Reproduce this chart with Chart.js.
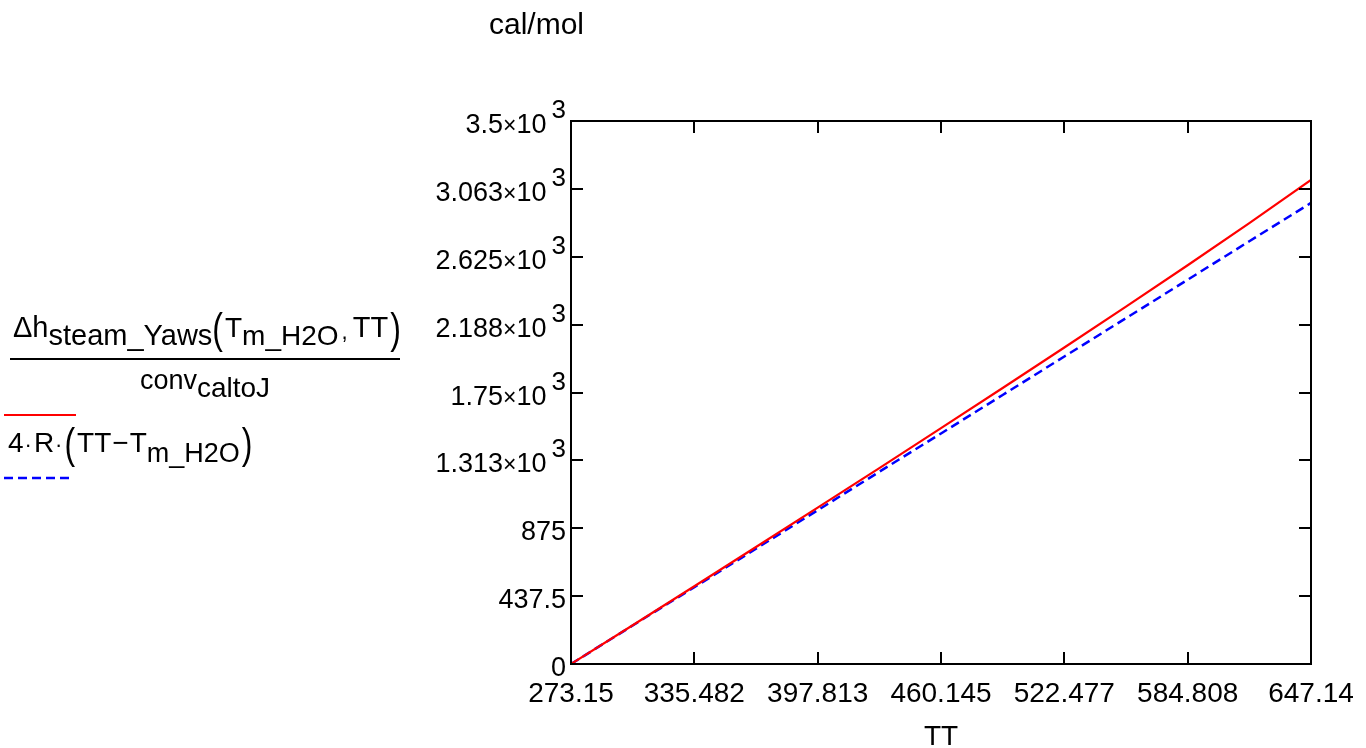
<!DOCTYPE html>
<html>
<head>
<meta charset="utf-8">
<title>cal/mol</title>
<script src="https://cdn.jsdelivr.net/npm/chart.js@4/dist/chart.umd.min.js"></script>
<style>
    html, body { margin: 0; padding: 0; background: #fff; }
    #wrap { position: relative; width: 1366px; height: 748px; }
</style>
</head>
<body>
<div id="wrap"><canvas id="plot"></canvas></div>
<script>
/*global Chart: true*/

// TT [K]
var tt = [273.15, 304.32, 335.48, 366.65, 397.81, 428.98, 460.15, 491.31, 522.48, 553.64, 584.81, 615.97, 647.14];
// Δh_steam_Yaws(T_m_H2O, TT) / conv_caltoJ  [cal/mol]
var steamYaws = [0, 250, 501, 754, 1008, 1263, 1520, 1779, 2040, 2304, 2570, 2842, 3120];
// 4·R·(TT − T_m_H2O)  [cal/mol]
var fourRdT = [0, 248, 495, 743, 991, 1239, 1486, 1734, 1982, 2229, 2477, 2725, 2972];

var xTicks = [273.15, 335.482, 397.813, 460.145, 522.477, 584.808, 647.14];
var xTickLabels = ['273.15', '335.482', '397.813', '460.145', '522.477', '584.808', '647.14'];
var yTicks = [0, 437.5, 875, 1312.5, 1750, 2187.5, 2625, 3062.5, 3500];
var yTickLabels = ['0', '437.5', '875', '1.313×10^3', '1.75×10^3', '2.188×10^3', '2.625×10^3', '3.063×10^3', '3.5×10^3'];

(function () {
    'use strict';

    var FONT = '"Liberation Sans", Arial, sans-serif';

    function pairs(xs, ys) {
        return xs.map(function (x, i) { return {x: x, y: ys[i]}; });
    }

    // draw a row of text pieces, left to right; returns end x
    function row(ctx, x, y, parts) {
        parts.forEach(function (p) {
            ctx.font = (p.size || 28) + 'px ' + FONT;
            if (p.paren) {
                ctx.save();
                ctx.translate(x, y + (p.dy || 0));
                ctx.scale(0.8, 1.05);
                ctx.fillText(p.t, 0, 0);
                ctx.restore();
                x += ctx.measureText(p.t).width * 0.8 + (p.gap || 0);
                return;
            }
            ctx.fillText(p.t, x, y + (p.dy || 0));
            x += ctx.measureText(p.t).width + (p.gap || 0);
        });
        return x;
    }

    function rowWidth(ctx, parts) {
        var w = 0;
        parts.forEach(function (p) {
            ctx.font = (p.size || 28) + 'px ' + FONT;
            w += ctx.measureText(p.t).width + (p.gap || 0);
        });
        return w;
    }

    var frame = {
        id: 'frame',
        afterDraw: function (chart) {
            var ctx = chart.ctx, a = chart.chartArea;
            var xs = chart.scales.x, ys = chart.scales.y;
            var TL = 12;
            ctx.save();
            ctx.strokeStyle = '#000';
            ctx.fillStyle = '#000';
            ctx.lineWidth = 2;
            ctx.strokeRect(a.left, a.top, a.right - a.left, a.bottom - a.top);

            // inward ticks on all four sides
            ctx.beginPath();
            xTicks.forEach(function (v) {
                var px = Math.round(xs.getPixelForValue(v));
                ctx.moveTo(px, a.bottom); ctx.lineTo(px, a.bottom - TL);
                ctx.moveTo(px, a.top); ctx.lineTo(px, a.top + TL);
            });
            yTicks.forEach(function (v) {
                var py = Math.round(ys.getPixelForValue(v));
                ctx.moveTo(a.left, py); ctx.lineTo(a.left + TL, py);
                ctx.moveTo(a.right, py); ctx.lineTo(a.right - TL, py);
            });
            ctx.stroke();

            // x tick labels
            ctx.textBaseline = 'alphabetic';
            ctx.textAlign = 'center';
            ctx.font = '28px ' + FONT;
            xTicks.forEach(function (v, i) {
                ctx.fillText(xTickLabels[i], xs.getPixelForValue(v), 702);
            });

            // y tick labels, mantissa×10 with raised exponent
            ctx.textAlign = 'left';
            yTicks.forEach(function (v, i) {
                var py = ys.getPixelForValue(v) + 12;
                var bits = yTickLabels[i].split('×10^'), parts;
                if (bits.length > 1) {
                    parts = [
                        {t: bits[0], size: 27},
                        {t: '×', size: 23},
                        {t: '10', size: 27, gap: 5},
                        {t: bits[1], size: 26, dy: -15}
                    ];
                } else {
                    parts = [{t: bits[0], size: 27}];
                }
                row(ctx, 566 - rowWidth(ctx, parts), py, parts);
            });

            // axis titles
            ctx.font = '30px ' + FONT;
            ctx.fillText('cal/mol', 489, 34);
            ctx.textAlign = 'center';
            ctx.font = '28px ' + FONT;
            ctx.fillText('TT', 941, 745);
            ctx.textAlign = 'left';

            // legend: trace expressions
            row(ctx, 13, 337, [
                {t: 'Δh', size: 29},
                {t: 'steam_Yaws', size: 29, dy: 8},
                {t: '(', size: 40, dy: 6, paren: true, gap: 2},
                {t: 'T', size: 28},
                {t: 'm_H2O', size: 28, dy: 8, gap: 3},
                {t: ',', size: 22, dy: 2, gap: 5},
                {t: 'TT', size: 29, gap: 2},
                {t: ')', size: 40, dy: 6, paren: true}
            ]);
            ctx.fillRect(10, 358, 390, 2);
            var den = [
                {t: 'conv', size: 27},
                {t: 'caltoJ', size: 28, dy: 8}
            ];
            row(ctx, 205 - rowWidth(ctx, den) / 2, 389, den);

            ctx.fillStyle = '#ff0000';
            ctx.fillRect(4, 414, 72, 2);
            ctx.fillStyle = '#000';

            row(ctx, 8, 452, [
                {t: '4', size: 28, gap: 1},
                {t: '·', size: 22, gap: 2},
                {t: 'R', size: 28, gap: 1},
                {t: '·', size: 22, gap: 2},
                {t: '(', size: 40, dy: 6, paren: true, gap: 2},
                {t: 'TT', size: 28, gap: 1},
                {t: '−', size: 28, gap: 1},
                {t: 'T', size: 28},
                {t: 'm_H2O', size: 27, dy: 10, gap: 2},
                {t: ')', size: 40, dy: 6, paren: true}
            ]);

            ctx.strokeStyle = '#0000ff';
            ctx.lineWidth = 2.5;
            ctx.setLineDash([9, 5]);
            ctx.beginPath();
            ctx.moveTo(4, 478);
            ctx.lineTo(74, 478);
            ctx.stroke();
            ctx.restore();
        }
    };

    var ctx = document.getElementById('plot').getContext('2d');
    new Chart(ctx, {
        type: 'line',
        data: {
            datasets: [{
                data: pairs(tt, steamYaws),
                borderColor: '#ff0000',
                borderWidth: 2.2,
                pointRadius: 0,
                tension: 0
            }, {
                data: pairs(tt, fourRdT),
                borderColor: '#0000ff',
                borderWidth: 2.5,
                borderDash: [9, 5],
                pointRadius: 0,
                tension: 0
            }]
        },
        options: {
            responsive: true,
            maintainAspectRatio: false,
            animation: false,
            layout: { padding: { top: 121, right: 55, left: 0, bottom: 0 } },
            plugins: {
                legend: { display: false },
                tooltip: { enabled: false }
            },
            scales: {
                x: {
                    type: 'linear',
                    min: 273.15,
                    max: 647.14,
                    grid: { display: false },
                    border: { display: false },
                    ticks: { display: false },
                    afterBuildTicks: function (s) {
                        s.ticks = xTicks.map(function (v) { return {value: v}; });
                    },
                    afterFit: function (s) { s.height = 84; }
                },
                y: {
                    type: 'linear',
                    min: 0,
                    max: 3500,
                    grid: { display: false },
                    border: { display: false },
                    ticks: { display: false },
                    afterBuildTicks: function (s) {
                        s.ticks = yTicks.map(function (v) { return {value: v}; });
                    },
                    afterFit: function (s) { s.width = 571; }
                }
            }
        },
        plugins: [frame]
    });
})();
</script>
</body>
</html>
